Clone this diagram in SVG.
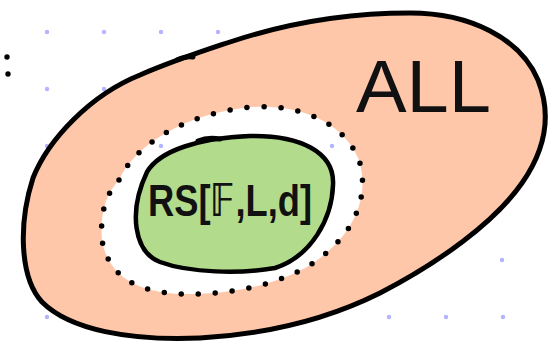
<svg xmlns="http://www.w3.org/2000/svg" width="556" height="347" viewBox="0 0 556 347">
<defs>
<style>
.grid{fill:#b4b4ff}
.edge{stroke:#000;stroke-linecap:round;stroke-linejoin:round}
.lbl{font-family:"Liberation Sans","DejaVu Sans",sans-serif;fill:#111}
</style>
</defs>
<rect width="556" height="347" fill="#fff"/>
<g id="grid">
<circle class="grid" cx="47" cy="32" r="2.2"/><circle class="grid" cx="104" cy="32" r="2.2"/><circle class="grid" cx="161" cy="32" r="2.2"/><circle class="grid" cx="218" cy="32" r="2.2"/>
<circle class="grid" cx="47" cy="89" r="2.2"/><circle class="grid" cx="104" cy="89" r="2.2"/>
<circle class="grid" cx="47" cy="146" r="2.2"/><circle class="grid" cx="161" cy="146" r="2.2"/><circle class="grid" cx="332" cy="146" r="2.2"/>
<circle class="grid" cx="502" cy="260" r="2.2"/>
<circle class="grid" cx="47" cy="317" r="2.2"/><circle class="grid" cx="389" cy="317" r="2.2"/><circle class="grid" cx="446" cy="317" r="2.2"/><circle class="grid" cx="503" cy="317" r="2.2"/>
</g>
<g id="marks">
<circle cx="7" cy="57" r="2.7" fill="#000"/>
<circle cx="8" cy="74" r="2.7" fill="#000"/>
</g>
<g id="all">
<path fill="#ffc7aa" fill-rule="evenodd" d="M 33,178 C 48,140 90,95 140,75 C 175,60 200,52 230,42 C 290,22 350,13 410,13 C 470,13 520,38 538,80 C 552,115 545,150 522,183 C 495,222 440,262 380,293 C 330,318 270,334 200,338 C 130,341 70,330 42,302 C 20,278 18,225 33,178 Z M 119,180 C 135,145 185,113 252,107 C 305,104 345,125 359,160 C 370,195 356,238 305,268 C 268,288 222,295 180,294 C 135,292 108,275 102,240 C 100,215 105,195 119,180 Z"/>
<path class="edge" fill="none" stroke-width="5" d="M 33,178 C 48,140 90,95 140,75 C 175,60 200,52 230,42 C 290,22 350,13 410,13 C 470,13 520,38 538,80 C 552,115 545,150 522,183 C 495,222 440,262 380,293 C 330,318 270,334 200,338 C 130,341 70,330 42,302 C 20,278 18,225 33,178 Z"/>
<path class="edge" fill="none" stroke-width="5" d="M 177,60 C 183,57 188,56 193,57"/>
<text class="lbl" x="356" y="112" font-size="74" textLength="135" lengthAdjust="spacingAndGlyphs">ALL</text>
</g>
<g id="ring">
<path class="edge" fill="none" stroke-width="5.5" stroke-dasharray="0 17" d="M 119,180 C 135,145 185,113 252,107 C 305,104 345,125 359,160 C 370,195 356,238 305,268 C 268,288 222,295 180,294 C 135,292 108,275 102,240 C 100,215 105,195 119,180 Z"/>
</g>
<g id="rs">
<path class="edge" fill="#b2dc8c" stroke-width="4.5" d="M 147,172 C 160,150 200,138 250,136 C 300,135 335,152 333,185 C 332,218 312,256 275,268 C 240,274 190,273 160,262 C 134,252 128,212 147,172 Z"/>
<path class="edge" fill="none" stroke-width="5" d="M 198,141 C 205,138 214,138 220,139"/>
<text class="lbl" x="148" y="216" font-size="45" font-weight="bold" textLength="164" lengthAdjust="spacingAndGlyphs">RS[𝔽,L,d]</text>
</g>
</svg>
